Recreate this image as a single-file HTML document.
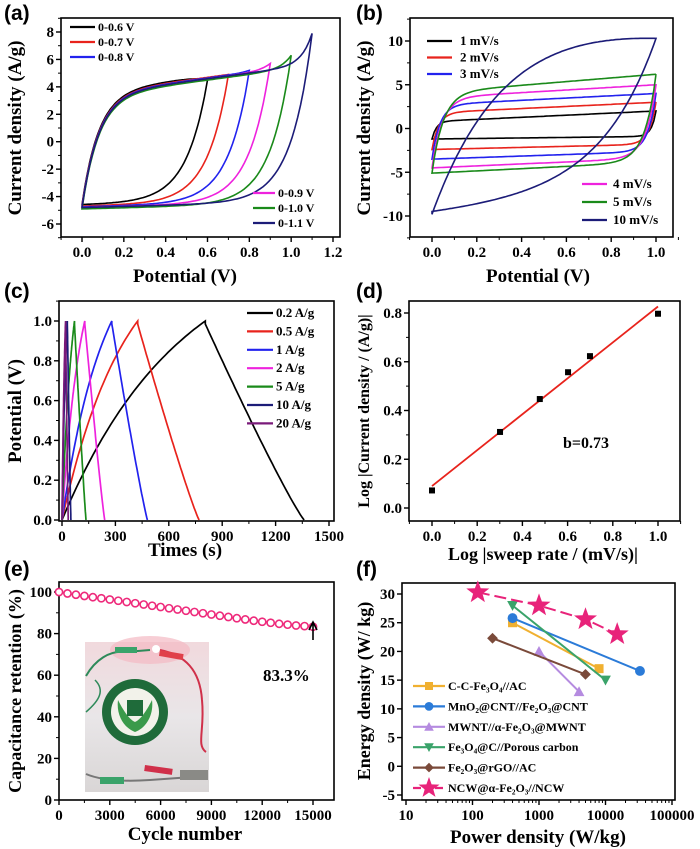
<!DOCTYPE html>
<html><head><meta charset="utf-8"><style>
html,body{margin:0;padding:0;background:#fff;}
svg{display:block;font-family:"Liberation Serif",serif;font-weight:bold;}
.pl{font-family:"Liberation Sans",sans-serif;font-weight:bold;font-size:21px;}
</style></head><body>
<svg id="fig" width="700" height="849" viewBox="0 0 700 849" xmlns="http://www.w3.org/2000/svg">
<defs>
<linearGradient id="photoGrad" x1="0" y1="0" x2="0" y2="1">
<stop offset="0" stop-color="#f1d9dd"/><stop offset="0.5" stop-color="#e9e6e8"/><stop offset="1" stop-color="#d9d6d6"/>
</linearGradient>
</defs>
</svg>
<script>
// ---------- data ----------
const aLabels = ["0-0.6 V","0-0.7 V","0-0.8 V","0-0.9 V","0-1.0 V","0-1.1 V"];
const aVmax = [0.6,0.7,0.8,0.9,1.0,1.1];
const aIend = [4.5,4.9,5.2,5.7,6.3,7.9];
const aIbot = [-4.6,-4.7,-4.75,-4.8,-4.9,-4.8];
const bLabels = ["1 mV/s","2 mV/s","3 mV/s","4 mV/s","5 mV/s","10 mV/s"];
const bBot = [-1.2,-2.4,-3.5,-4.5,-5.1,-9.8];
const bTopMid = [0.8,1.8,2.7,3.5,4.1,16.7];
const bEnd = [2.0,3.0,4.0,5.0,6.2,10.3];
const bTauUp = [0.02,0.03,0.035,0.045,0.05,0.35];
const bTauDn = [0.02,0.03,0.035,0.045,0.05,0.25];
const cLabels = ["0.2 A/g","0.5 A/g","1 A/g","2 A/g","5 A/g","10 A/g","20 A/g"];
const cTcharge = [805,425,280,128,70,30,20];
const cTend = [1360,770,480,240,135,50,35];
const dX = [0,0.301,0.477,0.602,0.699,1.0];
const dY = [0.072,0.312,0.447,0.557,0.623,0.797];
const eCycles = [0,500,1000,1500,2000,2500,3000,3500,4000,4500,5000,5500,6000,6500,7000,7500,8000,8500,9000,9500,10000,10500,11000,11500,12000,12500,13000,13500,14000,14500,15000];
const eRet = [100,99.3,98.7,98.1,97.5,97.0,96.4,95.8,95.2,94.6,94.0,93.4,92.8,92.2,91.6,91.0,90.4,89.8,89.2,88.6,88.0,87.4,86.8,86.2,85.7,85.2,84.7,84.3,83.9,83.6,83.3];
const fLabels = ["C-C-Fe₃O₄//AC","MnO₂@CNT//Fe₂O₃@CNT","MWNT//α-Fe₂O₃@MWNT","Fe₃O₄@C//Porous carbon","Fe₂O₃@rGO//AC","NCW@α-Fe₂O₃//NCW"];
const fP = [[400,8000],[400,33000],[1000,4000],[400,10000],[200,5000],[120,1000,5000,15000]];
const fE = [[25,17],[25.8,16.6],[20,13],[28,15],[22.3,16],[30.3,28,25.6,23]];

const cvColors = ["#000000","#e8231c","#2222ee","#ee22dd","#1a8a1a","#1c1c78"];
const cColors = ["#000000","#e8231c","#2222ee","#ee22dd","#1a8a1a","#1c1c78","#7a1a7a"];
const fColors = ["#f0b030","#2b7bd8","#b58be0","#3aa36a","#7a4a3a","#e8237a"];
const fMarkers = ["square","circle","triangle","invtri","diamond","star"];

const NS = "http://www.w3.org/2000/svg";
const svg = document.getElementById('fig');
function mk(tag, attrs, parent){ const e=document.createElementNS(NS,tag); for(const k in attrs) e.setAttribute(k,attrs[k]); (parent||svg).appendChild(e); return e; }
function lin(d0,d1,r0,r1){ return v => r0 + (v-d0)*(r1-r0)/(d1-d0); }
function logS(d0,d1,r0,r1){ const a=Math.log10(d0), b=Math.log10(d1); return v => r0 + (Math.log10(v)-a)*(r1-r0)/(b-a); }

function axes(g, fr, xs, ys, xt, yt, xm, ym, fx, fy, fs){
  const r = mk('rect',{x:fr.l,y:fr.t,width:fr.r-fr.l,height:fr.b-fr.t,fill:'none',stroke:'#000','stroke-width':1.6},g);
  
  
  xt.forEach(v=>{ const x=xs(v);
    const t=mk('line',{x1:x,y1:fr.b,x2:x,y2:fr.b+5,stroke:'#000','stroke-width':1.4},g);
    
    
    const l=mk('text',{x:x,y:fr.b+20,'text-anchor':'middle','font-size':fs||15},g); l.textContent=fx(v);
    
    
  });
  xm.forEach(v=>{ const x=xs(v);
    const t=mk('line',{x1:x,y1:fr.b,x2:x,y2:fr.b+3,stroke:'#000','stroke-width':1},g);
    
    
  });
  yt.forEach(v=>{ const y=ys(v);
    const t=mk('line',{x1:fr.l-5,y1:y,x2:fr.l,y2:y,stroke:'#000','stroke-width':1.4},g);
    
    
    const l=mk('text',{x:fr.l-7,y:y+5,'text-anchor':'end','font-size':fs||15},g); l.textContent=fy(v);
    
    
  });
  ym.forEach(v=>{ const y=ys(v);
    const t=mk('line',{x1:fr.l-3,y1:y,x2:fr.l,y2:y,stroke:'#000','stroke-width':1},g);
    
    
  });
}
function title(g, txt, x, y, rot, size, name){
  const t=mk('text',{x:x,y:y,'text-anchor':'middle','font-size':size||19},g);
  if(rot) t.setAttribute('transform','rotate(-90 '+x+' '+y+')');
  t.textContent=txt;
  
  
}
function panelLabel(txt,x,y){
  const t=mk('text',{x:x,y:y,class:'pl'}); t.textContent=txt;
  
  
}
function legendLine(g,x1,x2,y,color,label,tx,size,dash){
  const l=mk('line',{x1:x1,y1:y,x2:x2,y2:y,stroke:color,'stroke-width':2.2},g);
  if(dash) l.setAttribute('stroke-dasharray',dash);
  
  
  const t=mk('text',{x:tx,y:y+4,'font-size':size||12},g); t.textContent=label;
  
  
}
function range(a,b,s){ const r=[]; for(let v=a; v<=b+1e-9; v+=s) r.push(+v.toFixed(6)); return r; }
function pathD(pts){ return pts.map((p,i)=>(i?'L':'M')+p[0].toFixed(1)+','+p[1].toFixed(1)).join(''); }

// ---------- (a) ----------
(function(){
  const g=mk('g',{});  
  const fr={l:61,r:340,t:18,b:237};
  const xs=lin(0,1.2,82,333), ys=lin(8,-6,32,224);
  axes(g,fr,xs,ys,range(0,1.2,0.2),range(-6,8,2),range(-0.1,1.1,0.2),range(-7,9,2),v=>v.toFixed(1),v=>String(v));
  aVmax.forEach((vm,i)=>{
    const ie=aIend[i], ib=aIbot[i], pts=[];
    const base=v=> ib + 8.2*(1-Math.exp(-v/0.08)) + 2.0*v;
    const c=ie-base(vm);
    for(let k=0;k<=80;k++){ const v=vm*k/80; const u=base(v)+c*Math.exp(-(vm-v)/0.05); pts.push([xs(v),ys(u)]); }
    for(let k=80;k>=0;k--){ const v=vm*k/80; const l=ib+0.4*v+(ie-ib-0.4*vm)*Math.exp(-(vm-v)/0.1); pts.push([xs(v),ys(l)]); }
    const p=mk('path',{d:pathD(pts)+'Z',fill:'none',stroke:cvColors[i],'stroke-width':1.6},g);
    
    
  });
  for(let i=0;i<3;i++) legendLine(g,70,95,27+15*i,cvColors[i],aLabels[i],98);
  for(let i=3;i<6;i++) legendLine(g,253,275,193+15*(i-3),cvColors[i],aLabels[i],278);
  title(g,'Potential (V)',185,282,false,19,'x-axis-title');
  title(g,'Current density (A/g)',21,128,true,19,'y-axis-title');
})();

// ---------- (b) ----------
(function(){
  const g=mk('g',{});  
  const fr={l:410,r:673,t:18,b:237};
  const xs=lin(0,1,432,656), ys=lin(10,-10,41,216);
  axes(g,fr,xs,ys,range(0,1,0.2),[-10,-5,0,5,10],range(-0.1,1.1,0.2),[-12.5,-7.5,-2.5,2.5,7.5,12.5],v=>v.toFixed(1),v=>String(v));
  bBot.forEach((bot,i)=>{
    const tu=bTauUp[i], td=bTauDn[i], top=bTopMid[i], end=bEnd[i], pts=[];
    const u0=v=> bot+(top-bot)*(1-Math.exp(-v/tu));
    const slope=end-u0(1);
    for(let k=0;k<=100;k++){ const v=k/100; pts.push([xs(v),ys(u0(v)+slope*v)]); }
    const sl=0.25*Math.abs(bot);
    for(let k=100;k>=0;k--){ const v=k/100; const l=bot+sl*v+(end-bot-sl)*Math.exp(-(1-v)/td); pts.push([xs(v),ys(l)]); }
    const p=mk('path',{d:pathD(pts)+'Z',fill:'none',stroke:cvColors[i],'stroke-width':1.6},g);
    
    
  });
  for(let i=0;i<3;i++) legendLine(g,427,452,41+16.5*i,cvColors[i],bLabels[i],460,13);
  for(let i=3;i<6;i++) legendLine(g,582,607,184+18*(i-3),cvColors[i],bLabels[i],613,13);
  title(g,'Potential (V)',538,282,false,19,'x-axis-title');
  title(g,'Current density (A/g)',370,128,true,19,'y-axis-title');
})();

// ---------- (c) ----------
(function(){
  const g=mk('g',{});  
  const fr={l:59,r:334,t:301,b:521};
  const xs=lin(0,1500,62,329), ys=lin(1,0,321,520);
  axes(g,fr,xs,ys,range(0,1500,300),range(0,1,0.2),range(150,1350,300),range(0.1,1.1,0.2),v=>String(v),v=>v.toFixed(1));
  cTcharge.forEach((tc,i)=>{
    const te=cTend[i], pts=[], k=1.2;
    for(let j=0;j<=50;j++){ const t=tc*j/50; pts.push([xs(t),ys((1-Math.exp(-k*t/tc))/(1-Math.exp(-k)))]); }
    for(let j=0;j<=50;j++){ const s=j/50; const t=tc+(te-tc)*s; pts.push([xs(t),ys(0.985*Math.pow(1-s,1.1))]); }
    const p=mk('path',{d:pathD(pts),fill:'none',stroke:cColors[i],'stroke-width':1.7},g);
    
    
  });
  cLabels.forEach((lb,i)=>legendLine(g,247,273,313+18.4*i,cColors[i],lb,276,13));
  title(g,'Times (s)',185,556,false,19,'x-axis-title');
  title(g,'Potential (V)',21,411,true,19,'y-axis-title');
})();

// ---------- (d) ----------
(function(){
  const g=mk('g',{});  
  const fr={l:409,r:680,t:301,b:521};
  const xs=lin(0,1,432,658), ys=lin(0.8,0,313,508);
  axes(g,fr,xs,ys,range(0,1,0.2),range(0,0.8,0.2),range(-0.1,1.1,0.2),range(0.1,0.7,0.2),v=>v.toFixed(1),v=>v.toFixed(1));
  const n=dX.length, mx=dX.reduce((a,b)=>a+b)/n, my=dY.reduce((a,b)=>a+b)/n;
  let sxy=0,sxx=0; for(let i=0;i<n;i++){ sxy+=(dX[i]-mx)*(dY[i]-my); sxx+=(dX[i]-mx)**2; }
  const b=sxy/sxx, a=my-b*mx;
  const fl=mk('line',{x1:xs(0),y1:ys(a),x2:xs(1),y2:ys(a+b),stroke:'#e8231c','stroke-width':1.8},g);
  
  
  dX.forEach((x,i)=>{
    const r=mk('rect',{x:xs(x)-3,y:ys(dY[i])-3,width:6,height:6,fill:'#000'},g);
    
    
  });
  const t=mk('text',{x:563,y:448,'font-size':16},g); t.textContent='b=0.73';
  
  
  title(g,'Log |sweep rate / (mV/s)|',543,560,false,18,'x-axis-title');
  title(g,'Log |Current density / (A/g)|',369,411,true,16,'y-axis-title');
})();

// ---------- (e) ----------
(function(){
  const g=mk('g',{});  
  const fr={l:59,r:334,t:582,b:800};
  const xs=lin(0,15000,59,313), ys=lin(100,0,592,800);
  axes(g,fr,xs,ys,range(0,15000,3000),range(0,100,20),range(1500,13500,3000),range(10,90,20),v=>String(v),v=>String(v),15);
  const ph=mk('g',{},g);  
  mk('rect',{x:85,y:642,width:124,height:150,fill:'url(#photoGrad)'},ph);
  mk('ellipse',{cx:150,cy:650,rx:40,ry:14,fill:'#f3b9c3',opacity:0.7},ph);
  mk('path',{d:'M86,676 C95,660 110,650 125,652 L150,650',fill:'none',stroke:'#2e8a5a','stroke-width':2},ph);
  mk('path',{d:'M86,712 C100,700 105,690 95,680',fill:'none',stroke:'#2e8a5a','stroke-width':1.5},ph);
  mk('rect',{x:115,y:647,width:22,height:6,fill:'#3aa36a'},ph);
  mk('path',{d:'M160,650 C185,655 200,670 202,700 C205,730 196,745 206,752',fill:'none',stroke:'#d0304a','stroke-width':2},ph);
  mk('rect',{x:160,y:650,width:24,height:6,fill:'#e0404a',transform:'rotate(10 160 650)'},ph);
  mk('circle',{cx:156,cy:649,r:4,fill:'#ffffff'},ph);
  mk('path',{d:'M86,774 C100,780 120,782 150,780 L206,776',fill:'none',stroke:'#777','stroke-width':2},ph);
  mk('rect',{x:100,y:777,width:24,height:7,fill:'#3aa36a'},ph);
  mk('rect',{x:145,y:765,width:28,height:6,fill:'#d0304a',transform:'rotate(8 145 765)'},ph);
  mk('rect',{x:180,y:770,width:28,height:10,fill:'#8a8a86'},ph);
  mk('circle',{cx:135,cy:712,r:33,fill:'#1f6b3a'},ph);
  mk('circle',{cx:135,cy:712,r:24,fill:'#f2f2ea'},ph);
  mk('path',{d:'M118,700 C116,715 124,728 135,732 C146,728 154,715 152,700 C146,712 140,720 135,722 C130,720 124,712 118,700Z',fill:'#3a9a4a'},ph);
  mk('rect',{x:127,y:700,width:16,height:16,fill:'#1f6b3a'},ph);
  const line=mk('path',{d:pathD(eCycles.map((c,i)=>[xs(c),ys(eRet[i])])),fill:'none',stroke:'#e8237a','stroke-width':1},g);
  
  
  eCycles.forEach((c,i)=>{
    const m=mk('circle',{cx:xs(c),cy:ys(eRet[i]),r:3.6,fill:'#fff',stroke:'#ee2a7b','stroke-width':1.6},g);
    
    
  });
  const ar=mk('path',{d:'M313,640 L313,624 M309,630 L313,622 L317,630',fill:'none',stroke:'#000','stroke-width':1.6},g);
  
  
  const t=mk('text',{x:263,y:681,'font-size':17},g); t.textContent='83.3%';
  
  
  title(g,'Cycle number',185,840,false,19,'x-axis-title');
  title(g,'Capacitance retention (%)',21,691,true,18,'y-axis-title');
})();

// ---------- (f) ----------
function marker(g,type,x,y,s,color){
  let e;
  if(type==='square') e=mk('rect',{x:x-s,y:y-s,width:2*s,height:2*s,fill:color},g);
  else if(type==='circle') e=mk('circle',{cx:x,cy:y,r:s*1.1,fill:color},g);
  else if(type==='triangle') e=mk('path',{d:`M${x},${y-s*1.2}L${x+s*1.2},${y+s}L${x-s*1.2},${y+s}Z`,fill:color},g);
  else if(type==='invtri') e=mk('path',{d:`M${x},${y+s*1.2}L${x+s*1.2},${y-s}L${x-s*1.2},${y-s}Z`,fill:color},g);
  else if(type==='diamond') e=mk('path',{d:`M${x},${y-s*1.2}L${x+s*1.2},${y}L${x},${y+s*1.2}L${x-s*1.2},${y}Z`,fill:color},g);
  else { const p=[]; for(let k=0;k<10;k++){ const a=-Math.PI/2+k*Math.PI/5, r=k%2?s*0.9:s*2.2; p.push([x+r*Math.cos(a),y+r*Math.sin(a)]); } e=mk('path',{d:pathD(p)+'Z',fill:color},g); }
  return e;
}
(function(){
  const g=mk('g',{});  
  const fr={l:402,r:675,t:583,b:800};
  const xs=logS(10,100000,406,672), ys=lin(30,-5,594,795);
  const minor=[]; for(let d=10; d<100000; d*=10) for(let k=2;k<10;k++) minor.push(d*k);
  axes(g,fr,xs,ys,[10,100,1000,10000,100000],range(-5,30,5),minor,[],v=>String(v),v=>String(v));
  fP.forEach((ps,i)=>{
    const pts=ps.map((p,j)=>[xs(p),ys(fE[i][j])]);
    const l=mk('path',{d:pathD(pts),fill:'none',stroke:fColors[i],'stroke-width':2},g);
    if(i===5) l.setAttribute('stroke-dasharray','12,5');
    
    
    pts.forEach(p=>{
      const m=marker(g,fMarkers[i],p[0],p[1],i===5?5.5:4.5,fColors[i]);
      
      
    });
  });
  fLabels.forEach((lb,i)=>{
    const y=686+20.4*i;
    legendLine(g,413,445,y,fColors[i],lb,448,12,i===5?'8,3':null);
    const m=marker(g,fMarkers[i],429,y,i===5?5:4,fColors[i]);
    
    
  });
  title(g,'Power density (W/kg)',538,843,false,19,'x-axis-title');
  title(g,'Energy density (W/ kg)',370,691,true,18,'y-axis-title');
})();

panelLabel('(a)',4,20);
panelLabel('(b)',356,20);
panelLabel('(c)',4,298);
panelLabel('(d)',356,298);
panelLabel('(e)',4,576);
panelLabel('(f)',356,576);
</script>
</body></html>
